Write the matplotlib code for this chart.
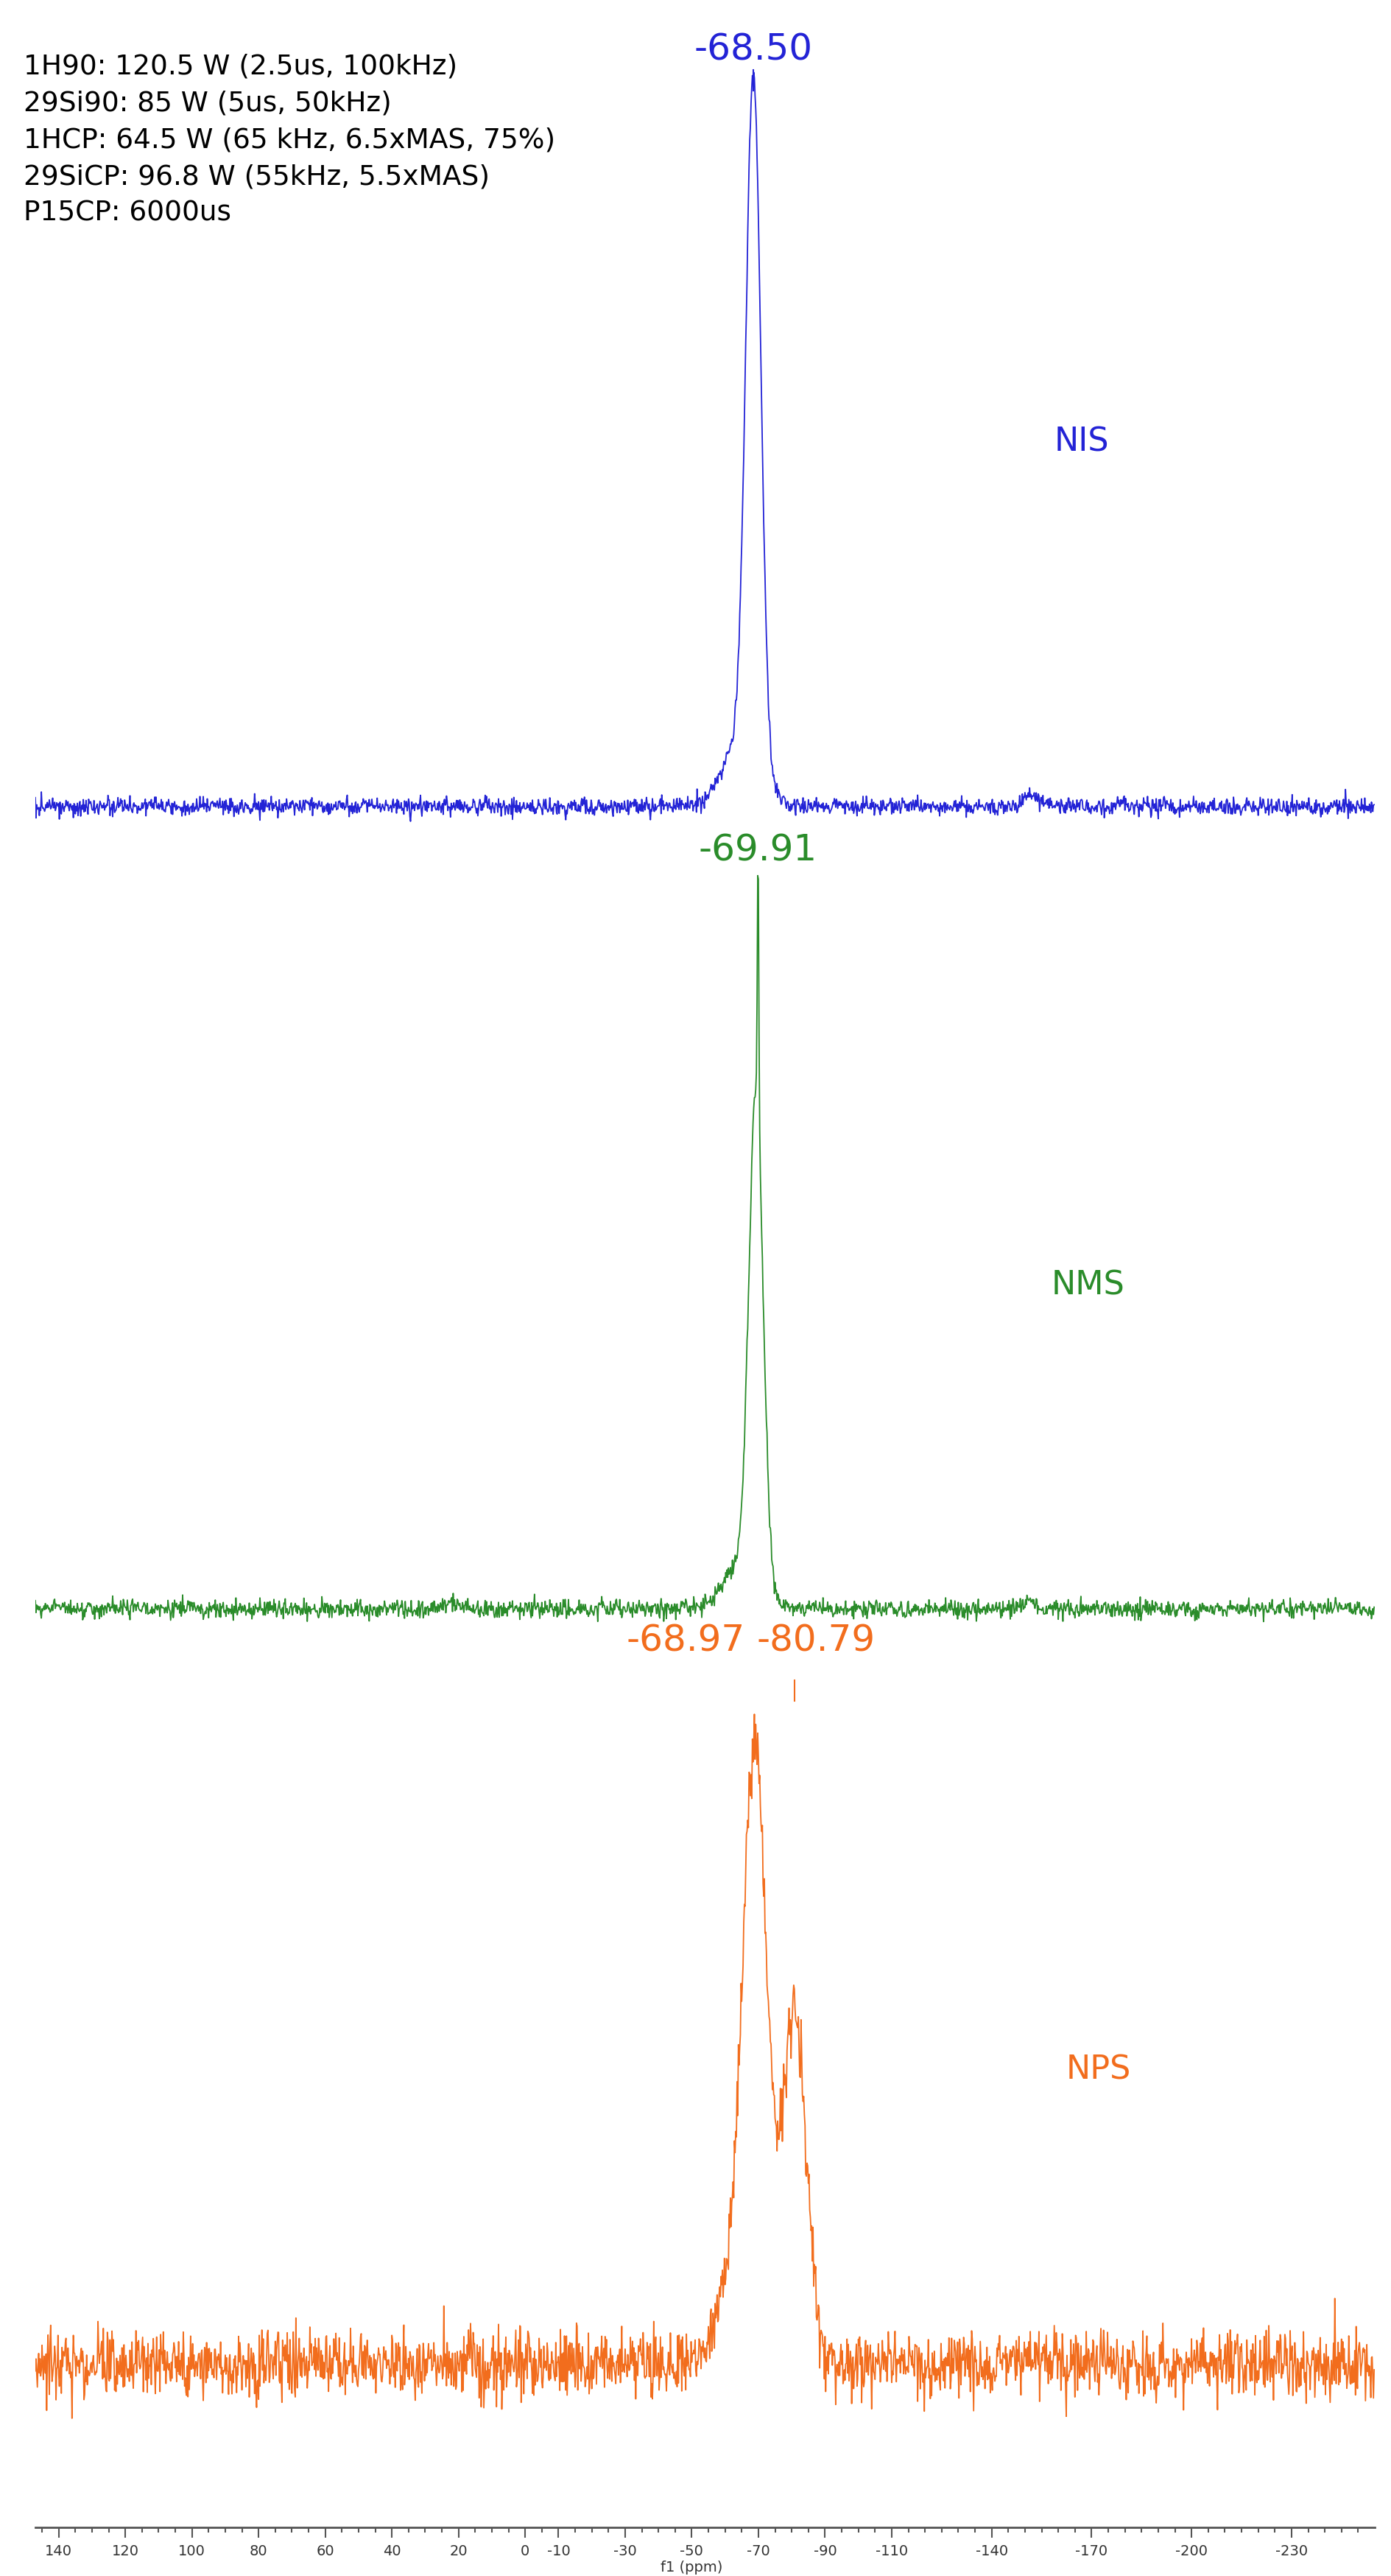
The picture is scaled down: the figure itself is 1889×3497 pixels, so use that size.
import matplotlib
matplotlib.use('Agg')
import matplotlib.pyplot as plt
import numpy as np

# spectrum description: (center ppm, height px, fwhm ppm)
nis_peaks = [(-68.5, 925, 5.2), (-65.0, 90, 13.0), (-152.0, 14, 6.0)]
nms_peaks = [(-69.3, 660, 5.0), (-69.91, 360, 0.5), (-65.0, 60, 13.0), (-151.0, 10, 4.0), (22.0, 8, 6.0)]
nps_peaks = [(-68.97, 840, 8.5), (-80.79, 470, 8.5), (-61.0, 90, 9.0)]
baselines = [1096, 2185, 3210]
noise_amp = [6, 6, 22]
colors = ['#2323d6', '#2a8c2a', '#f26d1d']
names = ['NIS', 'NMS', 'NPS']
name_pos = [(-167, 600), (-169, 1745), (-172, 2810)]
# (ppm, text y, text, alignment, mark y)
peak_labels = [[(-68.5, 68, '-68.50', 'center', 96)],
               [(-69.91, 1155, '-69.91', 'center', None)],
               [(-66.0, 2228, '-68.97', 'right', None), (-69.5, 2228, '-80.79', 'left', 2282)]]
params = ['1H90: 120.5 W (2.5us, 100kHz)',
          '29Si90: 85 W (5us, 50kHz)',
          '1HCP: 64.5 W (65 kHz, 6.5xMAS, 75%)',
          '29SiCP: 96.8 W (55kHz, 5.5xMAS)',
          'P15CP: 6000us']
tick_vals = [140, 120, 100, 80, 60, 40, 20, 0, -10, -30, -50, -70, -90, -110, -140, -170, -200, -230]

W, H = 1889, 3498
fig = plt.figure(figsize=(W / 100, H / 100), dpi=100)
ax = fig.add_axes([48 / W, 0, (1867 - 48) / W, 1])
ax.set_xlim(147, -255)
ax.set_ylim(H, 0)

x = np.arange(147, -255, -0.2)
rng = np.random.default_rng(3)
for peaks, base, amp, c in zip([nis_peaks, nms_peaks, nps_peaks], baselines, noise_amp, colors):
    y = np.zeros_like(x)
    for c0, h, w in peaks:
        y += h * np.exp(-4 * np.log(2) * ((x - c0) / w) ** 2)
    y += rng.normal(0, amp, x.size)
    ax.plot(x, base - y, color=c, lw=1.3)

for (xp, yp), n, c in zip(name_pos, names, colors):
    ax.text(xp, yp, n, color=c, fontsize=32, ha='center', va='center')

for labs, c in zip(peak_labels, colors):
    for xp, yt, s, ha, ymark in labs:
        ax.text(xp, yt, s, color=c, fontsize=36, ha=ha, va='center')
        if ymark is not None:
            xm = -80.79 if s == '-80.79' else xp
            ax.plot([xm, xm], [ymark, ymark + 28], color=c, lw=1.5)

for i, p in enumerate(params):
    fig.text(32 / W, 1 - (90 + i * 50) / H, p, fontsize=27, va='center')

for s in ['top', 'left', 'right']:
    ax.spines[s].set_visible(False)
ax.spines['bottom'].set_position(('data', 3432))
ax.spines['bottom'].set_color('#555555')
ax.spines['bottom'].set_linewidth(2)
ax.set_yticks([])
ax.set_xticks(tick_vals)
ax.set_xticklabels([str(t) for t in tick_vals], fontsize=14, color='#333333')
ax.set_xticks(np.arange(145, -255, -5), minor=True)
ax.tick_params(axis='x', which='major', length=10, width=1.5, color='#555555', pad=6)
ax.tick_params(axis='x', which='minor', length=5, width=1.5, color='#555555')
ax.text(-50, 3486, 'f1 (ppm)', fontsize=14, ha='center', va='center', color='#333333')
ax.patch.set_alpha(0)

fig.savefig('out.png', dpi=100)
